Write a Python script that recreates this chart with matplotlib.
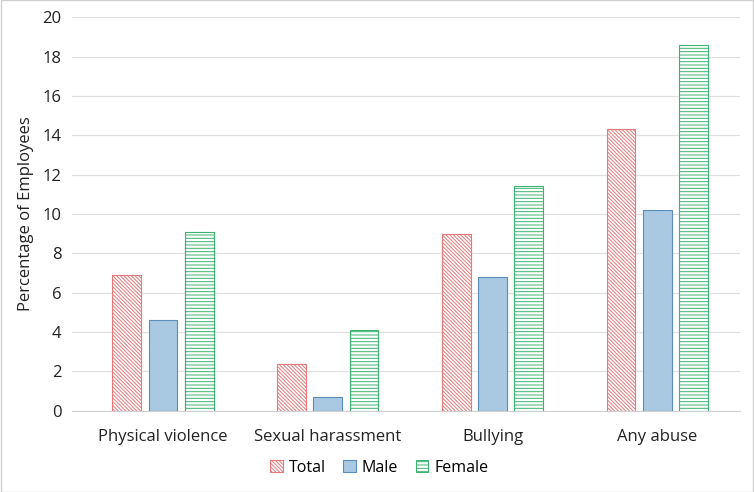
import numpy as np
import matplotlib.pyplot as plt

categories = ['Physical violence', 'Sexual harassment', 'Bullying', 'Any abuse']
total = [6.9, 2.4, 9.0, 14.3]
male = [4.6, 0.7, 6.8, 10.2]
female = [9.1, 4.1, 11.4, 18.6]

plt.rcParams['font.family'] = ['Open Sans', 'DejaVu Sans']
plt.rcParams['hatch.linewidth'] = 0.7

fig = plt.figure(figsize=(7.54, 4.92), dpi=100)
ax = fig.add_axes([0.096, 0.165, 0.885, 0.8])

x = np.arange(len(categories))
w = 0.175
off = 0.22

red = '#E8787A'
blue_edge = '#5B8DB8'
green = '#3CB371'

ax.bar(x - off, total, w, facecolor='white', edgecolor=red, hatch='\\' * 9, linewidth=0.8, label='Total', zorder=3)
ax.bar(x, male, w, facecolor='#A9C9E2', edgecolor=blue_edge, linewidth=0.8, label='Male', zorder=3)
ax.bar(x + off, female, w, facecolor='white', edgecolor=green, hatch='-----', linewidth=0.8, label='Female', zorder=3)

ax.set_ylim(0, 20)
ax.set_yticks(range(0, 21, 2))
ax.set_xlim(-0.55, 3.5)
ax.set_xticks(x)
ax.set_xticklabels(categories, fontsize=12, color='#222222')
ax.tick_params(axis='y', labelsize=12, colors='#222222', length=0, pad=8)
ax.tick_params(axis='x', length=0, pad=13)
ax.set_ylabel('Percentage of Employees', fontsize=12, color='#222222', labelpad=6)
ax.yaxis.grid(True, color='#E0E0E0', linewidth=0.9, zorder=0)
for s in ['top', 'right', 'left']:
    ax.spines[s].set_visible(False)
ax.spines['bottom'].set_color('#D0D0D0')

fig.legend(*ax.get_legend_handles_labels(), loc='center', bbox_to_anchor=(0.503, 0.049), ncol=3,
           frameon=False, fontsize=11.5, handlelength=0.8, handleheight=0.8,
           columnspacing=1.1, handletextpad=0.35)

fig.patches.append(plt.Rectangle((0.001, 0.001), 0.998, 0.998, transform=fig.transFigure,
                                 fill=False, edgecolor='#D0D0D0', linewidth=1))

fig.savefig('out.png', dpi=100)
